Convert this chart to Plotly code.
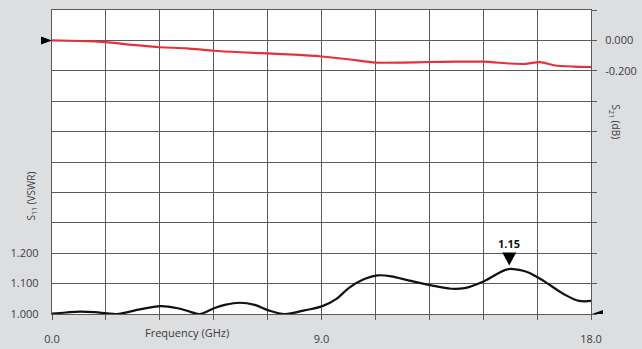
import plotly.graph_objects as go

# ---- data ----
s21_freq = [0.0, 0.9, 1.8, 2.7, 3.6, 4.5, 5.4, 6.3, 7.2, 8.1, 9.0, 9.9, 10.8,
            11.7, 12.6, 13.5, 14.4, 15.3, 15.8, 16.3, 16.8, 17.4, 18.0]
s21_db = [0.0, -0.004, -0.012, -0.03, -0.045, -0.052, -0.068, -0.078, -0.086,
          -0.094, -0.106, -0.124, -0.146, -0.146, -0.142, -0.140, -0.140,
          -0.152, -0.155, -0.143, -0.165, -0.172, -0.175]

s11_freq = [0.0, 0.47, 0.93, 1.43, 1.83, 2.17, 2.53, 2.93, 3.63, 4.2, 4.6, 4.93,
            5.43, 5.77, 6.27, 6.77, 7.23, 7.77, 8.43, 9.03, 9.5, 9.93, 10.43,
            10.87, 11.33, 11.93, 12.63, 13.33, 13.77, 14.43, 15.2, 15.6, 15.93,
            16.43, 17.1, 17.6, 18.0]
s11_vswr = [1.001, 1.005, 1.008, 1.006, 1.002, 1.0, 1.006, 1.015, 1.026, 1.019,
            1.008, 1.0, 1.02, 1.03, 1.037, 1.03, 1.012, 1.0, 1.012, 1.026, 1.05,
            1.087, 1.115, 1.127, 1.124, 1.11, 1.095, 1.083, 1.085, 1.108, 1.147,
            1.145, 1.136, 1.108, 1.065, 1.043, 1.043]

peak_freq = 15.27
peak_vswr = 1.15
peak_label = "1.15"

x_tickvals = [0.0, 9.0, 18.0]
x_ticktext = ["0.0", "9.0", "18.0"]
y1_tickvals = [1.0, 1.1, 1.2]
y1_ticktext = ["1.000", "1.100", "1.200"]
y2_tickvals = [0.0, -0.2]
y2_ticktext = ["0.000", "-0.200"]

FONT = "Open Sans, Roboto, sans-serif"
TXT = "#3c3c3c"
GRID = "#5a5a5a"

fig = go.Figure()
fig.add_trace(go.Scatter(x=s11_freq, y=s11_vswr, mode="lines", yaxis="y",
                         line=dict(color="#111111", width=2.2, shape="spline", smoothing=1.0),
                         hoverinfo="skip", showlegend=False))
fig.add_trace(go.Scatter(x=s21_freq, y=s21_db, mode="lines", yaxis="y2",
                         line=dict(color="#e8303c", width=2.2, shape="spline", smoothing=0.6),
                         hoverinfo="skip", showlegend=False))

grid = dict(showgrid=True, gridcolor=GRID, gridwidth=1.4)
fig.update_layout(
    width=642, height=349,
    margin=dict(l=52, r=51, t=10, b=35),
    paper_bgcolor="#dcdee0",
    plot_bgcolor="#ffffff",
    font=dict(family=FONT, size=11, color=TXT),
    xaxis=dict(range=[0, 18], tickvals=x_tickvals, ticktext=x_ticktext, **grid,
               minor=dict(tick0=0, dtick=1.8, ticks="outside", ticklen=5,
                          tickcolor=GRID, tickwidth=1.4, **grid),
               showline=True, linecolor=GRID, linewidth=1.4, mirror=True,
               ticks="outside", ticklen=5, tickcolor=GRID, tickwidth=1.4,
               ticklabelstandoff=10, zeroline=False, fixedrange=True, automargin=False),
    yaxis=dict(range=[1.0, 2.0], tickvals=y1_tickvals, ticktext=y1_ticktext, **grid,
               minor=dict(tick0=1.0, dtick=0.1, **grid),
               showline=True, linecolor=GRID, linewidth=1.4, mirror=True,
               ticks="", ticklabelstandoff=10, zeroline=False, fixedrange=True,
               automargin=False),
    yaxis2=dict(range=[-1.8, 0.2], tickvals=y2_tickvals, ticktext=y2_ticktext,
                overlaying="y", side="right", showgrid=False,
                minor=dict(tick0=0.2, dtick=0.2, ticks="outside", ticklen=5,
                           tickcolor=GRID, tickwidth=1.4, showgrid=False),
                ticks="outside", ticklen=5, tickcolor=GRID, tickwidth=1.4,
                ticklabelstandoff=6, zeroline=False, fixedrange=True, automargin=False),
)

# axis titles
fig.add_annotation(text="S<sub>11</sub> (VSWR)", xref="paper", yref="paper",
                   x=0, y=(314 - 196) / 304, xshift=-31, textangle=-90,
                   showarrow=False, font=dict(size=10, color=TXT))
fig.add_annotation(text="S<sub>21</sub> (dB)", xref="paper", yref="paper",
                   x=1, y=(314 - 122) / 304, xshift=34, textangle=90,
                   showarrow=False, font=dict(size=10, color=TXT))
fig.add_annotation(text="Frequency (GHz)", xref="x", yref="paper",
                   x=4.5, y=0, yshift=-28, showarrow=False, font=dict(size=11, color=TXT))

# peak marker
fig.add_annotation(text="<b>" + peak_label + "</b>", x=peak_freq, y=peak_vswr,
                   xref="x", yref="y", yshift=25, showarrow=False,
                   font=dict(size=11, color="#111111"))
fig.add_shape(type="path", xref="x", yref="y", xsizemode="pixel", ysizemode="pixel",
              xanchor=peak_freq, yanchor=peak_vswr,
              path="M -7,16 L 7,16 L 0,3 Z", fillcolor="#000000", line=dict(width=0))

# reference arrows
fig.add_shape(type="path", xref="paper", yref="y2", xsizemode="pixel", ysizemode="pixel",
              xanchor=0, yanchor=0.0, path="M -11,4 L -11,-4 L 0,0 Z",
              fillcolor="#000000", line=dict(width=0))
fig.add_shape(type="path", xref="paper", yref="y", xsizemode="pixel", ysizemode="pixel",
              xanchor=1, yanchor=1.0, path="M 12,4 L 12,-4 L 1,0 Z",
              fillcolor="#000000", line=dict(width=0))

fig.write_html("out.html")
